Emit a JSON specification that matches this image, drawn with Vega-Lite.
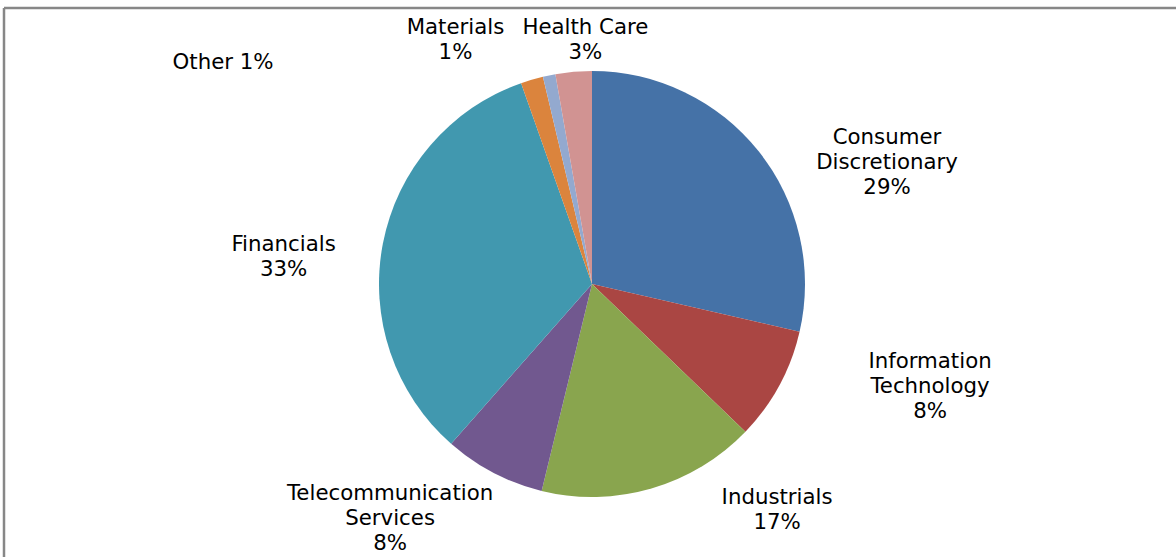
{
  "$schema": "https://vega.github.io/schema/vega-lite/v6.json",
  "width": 1176,
  "height": 552,
  "autosize": {"type": "none"},
  "padding": {"left": 4, "top": 8, "right": -4, "bottom": -3},
  "background": "white",
  "config": {"view": {"stroke": null}},
  "datasets": {
    "sectors": [
      {"sector": "Consumer Discretionary", "share": 28.6, "rank": 1},
      {"sector": "Information Technology", "share": 8.6, "rank": 2},
      {"sector": "Industrials", "share": 16.6, "rank": 3},
      {"sector": "Telecommunication Services", "share": 7.7, "rank": 4},
      {"sector": "Financials", "share": 33.1, "rank": 5},
      {"sector": "Other", "share": 1.7, "rank": 6},
      {"sector": "Materials", "share": 0.95, "rank": 7},
      {"sector": "Health Care", "share": 2.75, "rank": 8}
    ],
    "labels": [
      {"sector": "Consumer Discretionary", "label": "Consumer\nDiscretionary\n29%", "lx": 1.385, "ly": 0.736},
      {"sector": "Information Technology", "label": "Information\nTechnology\n8%", "lx": 1.587, "ly": -0.316},
      {"sector": "Industrials", "label": "Industrials\n17%", "lx": 0.869, "ly": -0.954},
      {"sector": "Telecommunication Services", "label": "Telecommunication\nServices\n8%", "lx": -0.948, "ly": -0.933},
      {"sector": "Financials", "label": "Financials\n33%", "lx": -1.448, "ly": 0.236},
      {"sector": "Other", "label": "Other 1%", "lx": -1.732, "ly": 1.089},
      {"sector": "Materials", "label": "Materials\n1%", "lx": -0.641, "ly": 1.254},
      {"sector": "Health Care", "label": "Health Care\n3%", "lx": -0.031, "ly": 1.254}
    ],
    "frame": [{"edge": "chart area"}]
  },
  "layer": [
    {
      "data": {"name": "sectors"},
      "mark": {"type": "arc", "outerRadius": 213},
      "encoding": {
        "theta": {"field": "share", "type": "quantitative", "stack": true},
        "order": {"field": "rank", "type": "quantitative"},
        "color": {
          "field": "sector",
          "type": "nominal",
          "scale": {
            "domain": ["Consumer Discretionary", "Information Technology", "Industrials", "Telecommunication Services", "Financials", "Other", "Materials", "Health Care"],
            "range": ["#4572A7", "#AA4643", "#89A54E", "#71588F", "#4198AF", "#DB843D", "#93A9CF", "#D19392"]
          },
          "legend": null
        }
      }
    },
    {
      "data": {"name": "labels"},
      "mark": {"type": "text", "font": "DejaVu Sans", "fontSize": 21.3, "lineBreak": "\n", "lineHeight": 25, "baseline": "top", "align": "center", "color": "#000000"},
      "encoding": {
        "x": {"field": "lx", "type": "quantitative", "scale": {"domain": [-2.7606, 2.7606], "nice": false, "zero": false}, "axis": null},
        "y": {"field": "ly", "type": "quantitative", "scale": {"domain": [-1.2958, 1.2958], "nice": false, "zero": false}, "axis": null},
        "text": {"field": "label", "type": "nominal"}
      }
    },
    {
      "data": {"name": "frame"},
      "mark": {"type": "rule", "color": "#878787", "strokeWidth": 2.5},
      "encoding": {"y": {"datum": 1.2958, "type": "quantitative"}}
    },
    {
      "data": {"name": "frame"},
      "mark": {"type": "rule", "color": "#878787", "strokeWidth": 2.5},
      "encoding": {"x": {"datum": -2.7606, "type": "quantitative"}}
    }
  ]
}
